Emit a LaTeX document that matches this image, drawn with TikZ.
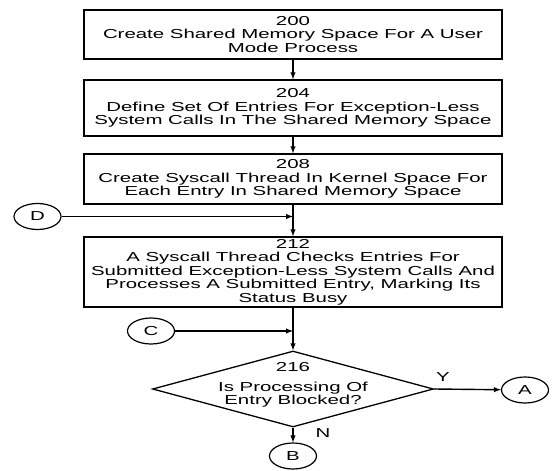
\documentclass[tikz,border=0pt]{standalone}
\usepackage{fontspec}
\setmainfont{Liberation Sans}[FakeStretch=1.57]
\usepackage{tikz}
\usetikzlibrary{arrows}
\usetikzlibrary{shapes.geometric}

\newcommand{\flowfont}{\fontsize{13pt}{13.5pt}\selectfont}

\begin{document}
\begin{tikzpicture}[x=1pt,y=-1pt,
        stepbox/.style={draw,line width=1.5pt,minimum width=418pt,align=center,inner sep=1pt,font=\flowfont},
        offpage/.style={draw,ellipse,line width=1.2pt,minimum width=47pt,minimum height=26pt,inner sep=0pt,font=\flowfont},
        flow/.style={-latex,line width=1.4pt}]
        \useasboundingbox (0,0) rectangle (552,471);
        % process steps
        \node[stepbox,minimum height=49pt] (s200) at (293,34.5) {200\\Create Shared Memory Space For A User\\Mode Process};
        \node[stepbox,minimum height=56pt] (s204) at (293,108) {204\\Define Set Of Entries For Exception-Less\\System Calls In The Shared Memory Space};
        \node[stepbox,minimum height=50pt] (s208) at (293,179) {208\\Create Syscall Thread In Kernel Space For\\Each Entry In Shared Memory Space};
        \node[stepbox,minimum height=70pt] (s212) at (293,272) {212\\A Syscall Thread Checks Entries For\\Submitted Exception-Less System Calls And\\Processes A Submitted Entry, Marking Its\\Status Busy};
        % decision
        \node[draw,diamond,line width=1.3pt,minimum width=281pt,minimum height=76pt,inner sep=0pt] (s216) at (293,389) {};
        \node[font=\flowfont,align=center] (s216txt) at (293,385) {216\\[6pt]Is Processing Of\\Entry Blocked?};
        % off-page connectors
        \node[offpage] (D) at (37.5,216.5) {D};
        \node[offpage] (C) at (151,331) {C};
        \node[offpage] (A) at (525,390) {A};
        \node[offpage] (B) at (293,456) {B};
        \draw[flow] (s200) -- (s204);
        \draw[flow] (s204) -- (s208);
        \draw[flow] (s208) -- (s212);
        \draw[flow] (D) -- (D -| s208.south);
        \draw[flow] (s212) -- (s216.north);
        \draw[flow] (C) -- (C -| s212.south);
        \draw[flow] (s216.east) -- (A);
        \draw[flow] (s216.south) -- (B);
        \node[font=\flowfont] (ylbl) at (443,377) {Y};
        \node[font=\flowfont] (nlbl) at (323,433) {N};
    \end{tikzpicture}
\end{document}
